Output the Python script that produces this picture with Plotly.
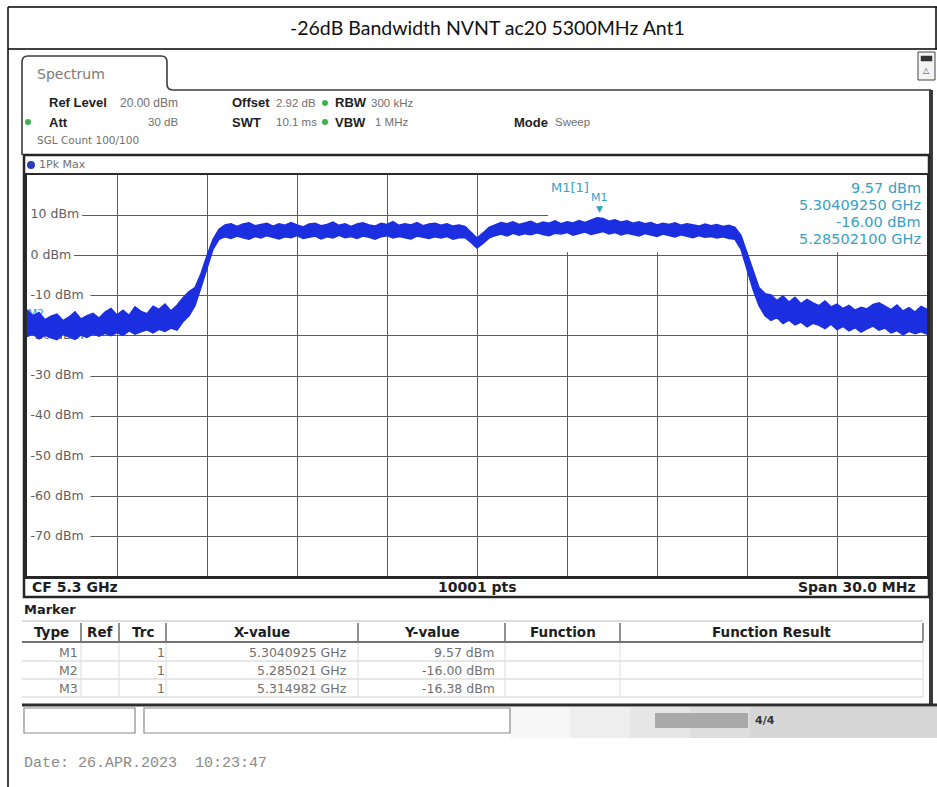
import numpy as np
import plotly.graph_objects as go

# ---------------- sweep settings ----------------
CF_GHZ = 5.3
SPAN_GHZ = 0.030
REF_LEVEL = 20
BOTTOM_LEVEL = -80

# ---------------- trace (1Pk Max), 0.2 MHz steps across the span ----------------
trace_max_dbm = [
    -13.5, -15.0, -14.2, -16.0, -15.1, -14.6, -16.2, -15.3, -14.0, -15.8,
    -15.0, -14.4, -15.6, -14.1, -13.2, -14.8, -13.6, -14.9, -12.8, -13.9,
    -14.5, -12.6, -13.4, -12.1, -13.8, -12.4,
    -10.5, -9.0, -8.0, -4.5, 0.0, 4.0, 6.5,
    7.6, 7.9, 7.2, 7.8, 8.1, 7.4, 7.7, 8.0, 7.3, 7.9,
    7.5, 8.2, 7.6, 7.1, 7.8, 8.0, 7.4, 7.7, 8.3, 7.5,
    7.9, 7.2, 7.8, 8.1, 7.6, 7.3, 8.0, 7.7, 8.4, 7.5,
    7.9, 7.6, 8.2, 7.4, 7.8, 8.0, 7.5, 7.9, 7.3, 7.6,
    7.2, 5.8, 4.3, 5.6, 7.0,
    7.6, 8.2, 7.9, 8.4, 7.7, 8.1, 8.5, 7.8, 8.3, 8.0,
    8.6, 7.9, 8.4, 8.1, 8.7, 8.2, 8.8, 9.4, 9.2, 8.5,
    8.9, 8.3, 8.6, 8.0, 8.4, 7.9, 8.2, 7.6, 8.0, 7.7,
    8.1, 7.5, 7.9, 7.6, 7.3, 7.8, 7.4, 7.7, 7.2, 7.5, 7.0,
    5.0, 0.5, -4.0, -8.0, -9.5,
    -9.8, -11.2, -10.1, -11.6, -10.4, -12.0, -10.9, -11.8, -12.5, -11.3,
    -12.8, -12.1, -13.2, -12.4, -13.6, -12.9, -13.3, -12.2, -11.8, -12.6,
    -13.5, -12.3, -13.8, -13.0, -14.1, -12.7, -13.4,
]
trace_min_dbm = [
    -20.2, -19.6, -20.8, -19.9, -20.5, -21.0, -19.7, -20.3, -20.9, -19.8,
    -20.4, -19.5, -20.1, -19.4, -20.0, -19.2, -19.9, -18.8, -19.6, -19.0,
    -18.5, -19.3, -18.4, -18.9, -18.1, -18.6,
    -16.5, -15.0, -12.5, -8.0, -3.0, 1.5, 4.0,
    4.6, 4.2, 4.8, 4.4, 4.0, 4.7, 4.3, 4.9, 4.5, 4.1,
    4.6, 4.4, 4.9, 4.2, 4.5, 4.8, 4.1, 4.6, 4.3, 5.0,
    4.4, 4.7, 4.2, 4.8, 4.5, 4.0, 4.6, 4.9, 4.3, 4.7,
    4.4, 4.1, 4.8, 4.5, 4.2, 4.6, 4.3, 4.7, 4.0, 4.4,
    4.4, 3.2, 1.8, 3.0, 4.3,
    4.9, 5.3, 4.8, 5.5, 5.0, 5.4, 5.1, 5.6, 5.2, 4.9,
    5.5, 5.3, 5.7, 5.0, 5.4, 5.8, 5.2, 5.6, 5.9, 5.3,
    5.7, 5.1, 5.5, 5.2, 4.8, 5.4, 5.0, 4.7, 5.3, 4.9,
    4.6, 5.1, 4.8, 4.4, 4.9, 4.5, 4.7, 4.3, 4.6, 4.2, 4.0,
    1.5, -3.5, -8.5, -12.5, -15.0,
    -16.2, -15.5, -17.0, -16.1, -17.3, -16.6, -17.8, -16.9, -17.4, -18.2,
    -17.1, -18.5, -17.7, -18.8, -18.0, -19.1, -18.3, -17.6, -18.6, -18.1,
    -19.3, -18.7, -19.8, -18.9, -19.5, -19.0, -19.6,
]

# ---------------- markers ----------------
marker_names = ["M1", "M2", "M3"]
marker_freq_ghz = [5.3040925, 5.285021, 5.314982]
marker_level_dbm = [9.57, -16.00, -16.38]
marker_trace = [1, 1, 1]

level_labels = [10, 0, -10, -20, -30, -40, -50, -60, -70]

TITLE = "-26dB Bandwidth NVNT ac20 5300MHz Ant1"

# ---------------- page geometry helpers (pixels -> paper) ----------------
W, H = 937, 787
PLOT_L, PLOT_R, PLOT_T, PLOT_B = 27, 927, 175, 577


def px(x):
    return x / W


def py(y):
    return 1 - y / H


SANS = "DejaVu Sans"
NARROW = "Liberation Sans"
BLUE = "#1c2fe0"
TEAL = "#3a9fc2"
DARK = "#1e1e1e"
GREY_TXT = "#707070"

freq = np.linspace(CF_GHZ - SPAN_GHZ / 2, CF_GHZ + SPAN_GHZ / 2, len(trace_max_dbm))

fig = go.Figure()

# level labels sit under the trace
fig.add_trace(go.Scatter(
    x=[CF_GHZ - SPAN_GHZ / 2 + 0.00012] * len(level_labels),
    y=level_labels,
    mode="text",
    text=[f"{v} dBm" for v in level_labels],
    textposition="middle right",
    textfont=dict(family=SANS, size=12.5, color="#5e5e5e"),
    hoverinfo="skip",
))

# M2 / M3 tags, partly hidden by the trace
fig.add_trace(go.Scatter(
    x=[marker_freq_ghz[1], marker_freq_ghz[2]],
    y=[marker_level_dbm[1], marker_level_dbm[2]],
    mode="text",
    text=["M2", "M3"],
    textposition=["top right", "top left"],
    textfont=dict(family=SANS, size=11, color=TEAL),
    hoverinfo="skip",
))

# spectrum band
fig.add_trace(go.Scatter(
    x=freq, y=trace_min_dbm, mode="lines",
    line=dict(color=BLUE, width=1.4), hoverinfo="skip",
))
fig.add_trace(go.Scatter(
    x=freq, y=trace_max_dbm, mode="lines", fill="tonexty", fillcolor=BLUE,
    line=dict(color=BLUE, width=1.4), hoverinfo="skip",
))

shapes = []
ann = []


def line(x0, y0, x1, y1, color=DARK, width=1.0):
    shapes.append(dict(type="line", xref="paper", yref="paper",
                       x0=px(x0), y0=py(y0), x1=px(x1), y1=py(y1),
                       line=dict(color=color, width=width)))


def rect(x0, y0, x1, y1, fill=None, color=DARK, width=1.0, layer="above"):
    shapes.append(dict(type="rect", xref="paper", yref="paper",
                       x0=px(x0), y0=py(y0), x1=px(x1), y1=py(y1),
                       fillcolor=fill if fill else "rgba(0,0,0,0)",
                       line=dict(color=color, width=width), layer=layer))


def dot(x, y, r, color):
    shapes.append(dict(type="circle", xref="paper", yref="paper",
                       x0=px(x - r), y0=py(y + r), x1=px(x + r), y1=py(y - r),
                       fillcolor=color, line=dict(width=0)))


def txt(x, y, s, size=11, color=DARK, bold=False, anchor="left", family=SANS):
    ann.append(dict(xref="paper", yref="paper", x=px(x), y=py(y),
                    text=f"<b>{s}</b>" if bold else s, showarrow=False,
                    xanchor=anchor, yanchor="middle",
                    font=dict(family=family, size=size, color=color)))


# white backing behind the level labels (covers the grid line start)
for v in level_labels:
    label_w = 8.2 * len(f"{v} dBm") + 6
    shapes.append(dict(type="rect", xref="x", yref="y",
                       x0=CF_GHZ - SPAN_GHZ / 2, x1=CF_GHZ - SPAN_GHZ / 2 + label_w / 30000,
                       y0=v - 0.9, y1=v + 0.9, fillcolor="white",
                       line=dict(width=0), layer="between"))

# white readout area of the top right corner of the diagram
shapes.append(dict(type="rect", xref="x", yref="y",
                   x0=5.30237, x1=CF_GHZ + SPAN_GHZ / 2, y0=0.8, y1=REF_LEVEL,
                   fillcolor="white", line=dict(width=0), layer="between"))

# ---------------- page frame and title ----------------
line(8, 7, 937, 7, "#000", 1.5)
line(8, 7, 8, 787, "#000", 1.5)
line(8, 49, 937, 49, "#000", 1.5)
line(936, 7, 936, 49, "#000", 1.5)
txt(487, 28, TITLE, size=19.5, color="#111", anchor="center", family="Lato")

# ---------------- instrument tab and header ----------------
tab = (f"M {px(22)},{py(155)} L {px(22)},{py(62)} Q {px(22)},{py(56)} {px(28)},{py(56)} "
       f"L {px(161)},{py(56)} Q {px(167)},{py(56)} {px(167)},{py(62)} "
       f"L {px(167)},{py(84)} Q {px(167)},{py(90)} {px(173)},{py(90)} L {px(931)},{py(90)}")
shapes.append(dict(type="path", xref="paper", yref="paper", path=tab,
                   line=dict(color="#3c3c3c", width=1.6)))
line(931, 90, 931, 705, "#3a3a3a", 4)
txt(35, 74, "Spectrum", size=14, color="#7a7a7a")

# top-right window icon
rect(918, 52, 935, 80, fill="#f4f4f4", color="#444", width=1)
rect(921, 56, 932, 61, fill="#333", color="#333", width=0.5)
txt(926.5, 70, "△", size=8, color="#444", anchor="center")

# header rows
txt(47, 103, "Ref Level", 13, DARK, True, family=NARROW)
txt(180, 103, "20.00 dBm", 12, GREY_TXT, anchor="right", family=NARROW)
txt(230, 103, "Offset", 13, DARK, True, family=NARROW)
txt(274, 103, "2.92 dB", 11.5, GREY_TXT, family=NARROW)
dot(325, 103, 3, "#39b54a")
txt(333, 103, "RBW", 13, DARK, True, family=NARROW)
txt(369, 103, "300 kHz", 11.5, GREY_TXT, family=NARROW)

dot(28, 122, 3, "#39b54a")
txt(47, 122, "Att", 13, DARK, True, family=NARROW)
txt(180, 122, "30 dB", 11.5, GREY_TXT, anchor="right", family=NARROW)
txt(230, 122, "SWT", 13, DARK, True, family=NARROW)
txt(274, 122, "10.1 ms", 11.5, GREY_TXT, family=NARROW)
dot(325, 122, 3, "#39b54a")
txt(333, 122, "VBW", 13, DARK, True, family=NARROW)
txt(410, 122, "1 MHz", 11.5, GREY_TXT, anchor="right", family=NARROW)
txt(512, 122, "Mode", 13, DARK, True, family=NARROW)
txt(553, 122, "Sweep", 11.5, GREY_TXT, family=NARROW)

txt(35, 140, "SGL Count 100/100", 10.5, GREY_TXT)

# ---------------- trace panel ----------------
rect(24, 155, 929, 597, color="#262626", width=2.5)
dot(31, 165, 4, "#2a3cb8")
txt(37, 165, "1Pk Max", 11, GREY_TXT)
line(24, 577, 929, 577, "#262626", 2)
txt(30, 587, "CF 5.3 GHz", 14, DARK, True)
txt(478, 587, "10001 pts", 14, DARK, True, anchor="center")
txt(918, 587, "Span 30.0 MHz", 14, DARK, True, anchor="right")

# marker readout inside the diagram
m1_f, m1_l = marker_freq_ghz[0], marker_level_dbm[0]
m2_f, m2_l = marker_freq_ghz[1], marker_level_dbm[1]
txt(570, 188, "M1[1]", 13, TEAL, anchor="center")
txt(923, 188, f"{m1_l:.2f} dBm", 14.5, TEAL, anchor="right")
txt(923, 205, f"{m1_f:.8f} GHz", 14.5, TEAL, anchor="right")
txt(923, 222, f"{m2_l:.2f} dBm", 14.5, TEAL, anchor="right")
txt(923, 239, f"{m2_f:.8f} GHz", 14.5, TEAL, anchor="right")

ann.append(dict(xref="x", yref="y", x=m1_f, y=m1_l, text="▼", showarrow=False,
                xanchor="center", yanchor="bottom", yshift=1,
                font=dict(family=SANS, size=9, color=TEAL)))
ann.append(dict(xref="x", yref="y", x=m1_f, y=m1_l, text="M1", showarrow=False,
                xanchor="center", yanchor="bottom", yshift=11,
                font=dict(family=SANS, size=11, color=TEAL)))

# ---------------- marker table ----------------
txt(22, 609, "Marker", 13, DARK, True)
col_edges = [22, 81, 119, 166, 358, 505, 620, 923]
headers = ["Type", "Ref", "Trc", "X-value", "Y-value", "Function", "Function Result"]
line(22, 621, 923, 621, "#bbbbbb", 1)
line(22, 642, 923, 642, "#444444", 1.5)
for xe in col_edges[1:]:
    line(xe, 623, xe, 641, "#555555", 1.3)
for i, h in enumerate(headers):
    txt((col_edges[i] + col_edges[i + 1]) / 2, 632, h, 13.5, DARK, True, anchor="center")

row_y = [652, 670, 688]
for k, yk in enumerate(row_y):
    line(22, yk + 9, 923, yk + 9, "#d0d0d0", 1)
    for xe in col_edges[1:]:
        line(xe, yk - 9, xe, yk + 9, "#dddddd", 1)
    txt(80, yk, marker_names[k], 12.5, GREY_TXT, anchor="right")
    txt(167, yk, str(marker_trace[k]), 12.5, GREY_TXT, anchor="right")
    x_str = format(marker_freq_ghz[k], ".7f").rstrip("0")
    txt(349, yk, f"{x_str} GHz", 12.5, GREY_TXT, anchor="right")
    txt(497, yk, f"{marker_level_dbm[k]:.2f} dBm", 12.5, GREY_TXT, anchor="right")

# ---------------- status bar ----------------
line(22, 705, 937, 705, "#2e2e2e", 3)
for i, g in enumerate(["#f6f6f6", "#eeeeee", "#e6e6e6", "#dedede", "#d6d6d6"]):
    rect(510 + i * 60, 707, 937, 738, fill=g, color=g, width=0)
rect(24, 708, 135, 733, fill="white", color="#8a8a8a", width=1.2)
rect(144, 708, 510, 733, fill="white", color="#8a8a8a", width=1.2)
rect(655, 713, 748, 728, fill="#a9a9a9", color="#a9a9a9", width=0)
txt(765, 720, "4/4", 11, "#333", True, anchor="center")
txt(22, 763, "Date: 26.APR.2023  10:23:47", 15, "#8a8a8a", family="Liberation Mono")

fig.update_layout(
    width=W, height=H, autosize=False,
    margin=dict(l=0, r=0, t=0, b=0, pad=0),
    paper_bgcolor="white", plot_bgcolor="white",
    showlegend=False,
    shapes=shapes, annotations=ann,
    xaxis=dict(domain=[px(PLOT_L), px(PLOT_R)], range=[CF_GHZ - SPAN_GHZ / 2, CF_GHZ + SPAN_GHZ / 2],
               dtick=SPAN_GHZ / 10, tick0=CF_GHZ - SPAN_GHZ / 2,
               showgrid=True, gridcolor="#5c5c5c", gridwidth=1,
               showticklabels=False, ticks="", zeroline=False,
               showline=True, linecolor="#2a2a2a", linewidth=1.5, mirror=True, fixedrange=True),
    yaxis=dict(domain=[py(PLOT_B), py(PLOT_T)], range=[BOTTOM_LEVEL, REF_LEVEL], dtick=10,
               showgrid=True, gridcolor="#5c5c5c", gridwidth=1,
               showticklabels=False, ticks="", zeroline=False,
               showline=True, linecolor="#2a2a2a", linewidth=1.5, mirror=True, fixedrange=True),
)

fig.write_html("out.html")
